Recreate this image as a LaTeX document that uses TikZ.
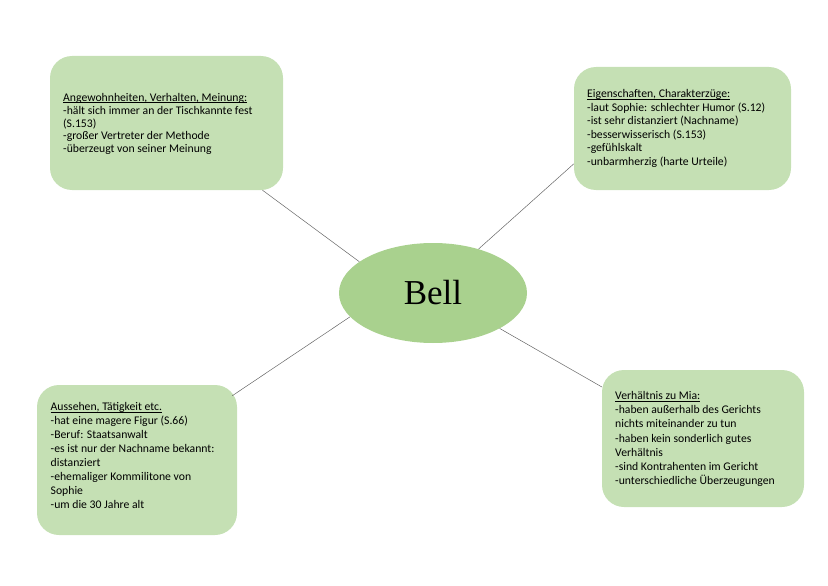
\documentclass[tikz,border=0pt]{standalone}
\usepackage{fontspec}
\setmainfont{Carlito}
\newfontfamily\bellfont{Liberation Serif}
\usetikzlibrary{shapes.geometric}
\definecolor{boxgreen}{HTML}{C5E0B4}
\definecolor{bellgreen}{HTML}{A9D18E}
\newcommand{\boxtitle}[1]{\underline{\smash{#1}}\vphantom{hg}}

\begin{document}
\begin{tikzpicture}[x=1pt,y=-1pt,font=\fontsize{11.7}{14}\selectfont]
    \tikzstyle{infobox} = [rectangle, rounded corners=22pt, fill=boxgreen, inner sep=0pt]
    \tikzstyle{infotext} = [anchor=west, align=left, inner sep=0pt]
    \tikzstyle{link} = [draw=black!60, line width=0.5pt]

    \useasboundingbox (0,0) rectangle (828,586);

    % 中心
    \node[ellipse, fill=bellgreen, minimum width=188pt, minimum height=100pt, inner sep=0pt, font=\bellfont\fontsize{35}{40}\selectfont] (bell) at (433,293) {Bell};

    % 定义方框
    \node[infobox, minimum width=233pt, minimum height=134pt] (habits) at (166.5,123) {};
    \node[infobox, minimum width=217pt, minimum height=123pt] (traits) at (682.5,128.5) {};
    \node[infobox, minimum width=200pt, minimum height=150pt] (looks) at (137,460) {};
    \node[infobox, minimum width=202pt, minimum height=137pt] (mia) at (703,438.5) {};

    % 方框文字
    \node[infotext, font=\fontsize{11.7}{12.9}\selectfont] (habitstext) at (63,124) {\boxtitle{Angewohnheiten, Verhalten, Meinung:}\\-hält sich immer an der Tischkannte fest\\(S.153)\\-großer Vertreter der Methode\\-überzeugt von seiner Meinung};
    \node[infotext, font=\fontsize{11.7}{13.5}\selectfont] (traitstext) at (587,128.5) {\boxtitle{Eigenschaften, Charakterzüge:}\\-laut Sophie: schlechter Humor (S.12)\\-ist sehr distanziert (Nachname)\\-besserwisserisch (S.153)\\-gefühlskalt\\-unbarmherzig (harte Urteile)};
    \node[infotext] (lookstext) at (50.5,455.5) {\boxtitle{Aussehen, Tätigkeit etc.}\\-hat eine magere Figur (S.66)\\-Beruf: Staatsanwalt\\-es ist nur der Nachname bekannt:\\distanziert\\-ehemaliger Kommilitone von\\Sophie\\-um die 30 Jahre alt};
    \node[infotext, font=\fontsize{11.7}{14.2}\selectfont] (miatext) at (615,439) {\boxtitle{Verhältnis zu Mia:}\\-haben außerhalb des Gerichts\\nichts miteinander zu tun\\-haben kein sonderlich gutes\\Verhältnis\\-sind Kontrahenten im Gericht\\-unterschiedliche Überzeugungen};

    % 连线
    \draw[link] (bell.157) -- (habits.-35);
    \draw[link] (bell.44) -- (traits.198);
    \draw[link, shorten >=-6pt] (bell.196) -- (looks.34);
    \draw[link] (bell.-28) -- (mia.153);
\end{tikzpicture}
\end{document}
